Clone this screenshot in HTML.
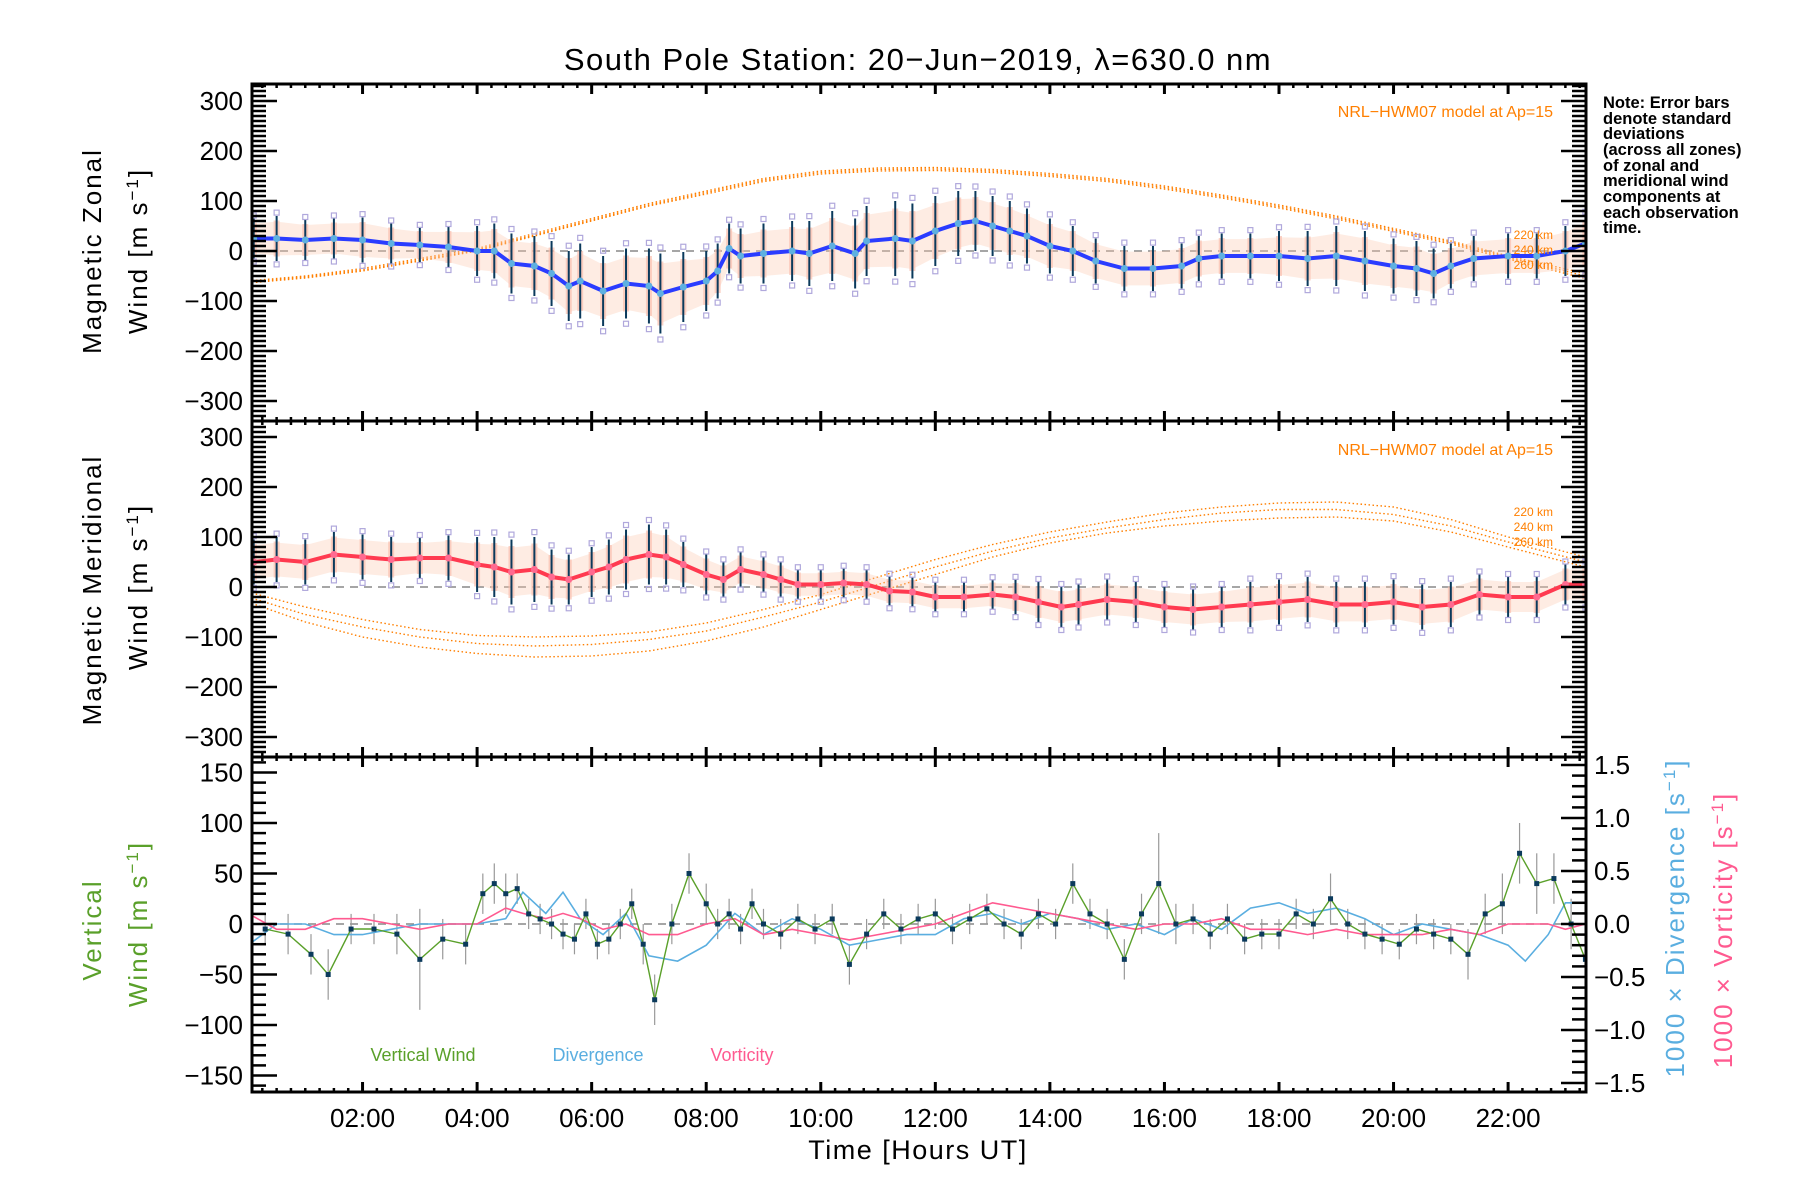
<!DOCTYPE html>
<html><head><meta charset="utf-8">
<style>
html,body{margin:0;padding:0;background:#fff;}
svg{display:block;font-family:"Liberation Sans","DejaVu Sans",sans-serif;}
</style></head>
<body>
<svg id="chart" width="1800" height="1200" viewBox="0 0 1800 1200" xmlns="http://www.w3.org/2000/svg">
<rect width="1800" height="1200" fill="#fff"/>
<text x="918" y="70" font-size="31" letter-spacing="1.5" text-anchor="middle" fill="#000">South Pole Station: 20−Jun−2019, λ=630.0 nm</text>
<g id="layer"></g>
<g font-size="16.5" fill="#000" font-weight="bold">
<text x="1603" y="108">Note: Error bars</text>
<text x="1603" y="124">denote standard</text>
<text x="1603" y="139">deviations</text>
<text x="1603" y="155">(across all zones)</text>
<text x="1603" y="171">of zonal and</text>
<text x="1603" y="186">meridional wind</text>
<text x="1603" y="202">components at</text>
<text x="1603" y="218">each observation</text>
<text x="1603" y="233">time.</text>
</g>
</svg>
<script>
// ---- data ----
const meanTimes = [0.1,0.5,1,1.5,2,2.5,3,3.5,4,4.3,4.6,5,5.3,5.6,5.8,6.2,6.6,7,7.2,7.6,8,8.2,8.4,8.6,9,9.5,9.8,10.2,10.6,10.8,11.3,11.6,12,12.4,12.7,13,13.3,13.6,14,14.4,14.8,15.3,15.8,16.3,16.6,17,17.5,18,18.5,19,19.5,20,20.4,20.7,21,21.4,22,22.5,23,23.35];
const zonalMean = [25,25,22,25,22,15,12,8,0,0,-25,-30,-45,-70,-60,-80,-65,-70,-85,-72,-60,-40,5,-10,-5,0,-5,10,-5,20,25,20,40,55,60,50,40,30,10,0,-20,-35,-35,-30,-15,-10,-10,-10,-15,-10,-20,-30,-35,-45,-30,-15,-10,-10,0,15];
const zonalStd = [40,45,40,40,45,40,35,40,50,55,60,60,65,70,75,70,70,75,80,70,60,55,50,55,60,60,65,70,70,70,75,75,70,65,60,60,60,55,55,50,45,45,45,45,45,45,45,50,55,60,60,55,55,50,45,45,45,45,50,55];
const meridMean = [50,55,50,65,60,55,58,58,45,40,30,35,20,15,30,40,55,65,60,45,25,15,35,25,15,5,5,8,5,-8,-10,-20,-20,-15,-20,-30,-40,-35,-25,-30,-40,-45,-40,-35,-30,-25,-35,-35,-30,-40,-35,-15,-20,-20,5,5];
const meridTimes = [0.1,0.5,1,1.5,2,2.5,3,3.5,4,4.3,4.6,5,5.3,5.6,6,6.3,6.6,7,7.3,7.6,8,8.3,8.6,9,9.3,9.6,10,10.4,10.8,11.2,11.6,12,12.5,13,13.4,13.8,14.2,14.5,15,15.5,16,16.5,17,17.5,18,18.5,19,19.5,20,20.5,21,21.5,22,22.5,23,23.35];
const meridStd = [45,45,45,45,45,45,40,45,55,60,65,65,55,50,50,55,60,60,55,45,40,35,35,35,35,30,30,30,30,30,30,30,30,30,35,40,40,40,40,40,40,40,40,45,45,45,45,45,45,45,45,40,40,40,40,40];
const modelHours = [0,1,2,3,4,5,6,7,8,9,10,11,12,13,14,15,16,17,18,19,20,21,22,23.35];
const zonalModel220 = [-60,-50,-35,-15,5,35,65,95,120,145,160,166,167,163,155,145,130,112,92,70,45,20,-10,-45];
const zonalModel240 = [-62,-52,-38,-18,2,32,62,92,117,142,157,163,164,160,152,142,127,109,89,67,42,17,-13,-50];
const zonalModel260 = [-64,-54,-40,-20,0,30,60,90,114,139,154,160,161,157,149,139,124,106,86,64,39,14,-16,-55];
const meridModel220 = [-10,-40,-65,-85,-97,-100,-98,-90,-72,-45,-15,20,55,85,110,130,148,160,168,170,160,135,100,60];
const meridModel240 = [-20,-55,-80,-100,-113,-118,-115,-105,-88,-60,-30,5,40,72,98,118,135,148,155,155,145,122,90,50];
const meridModel260 = [-30,-70,-100,-120,-133,-140,-138,-128,-108,-80,-45,-10,25,60,88,108,122,132,138,140,132,110,80,40];
const vertTimes = [0.3,0.7,1.1,1.4,1.8,2.2,2.6,3.0,3.4,3.8,4.1,4.3,4.5,4.7,4.9,5.1,5.3,5.5,5.7,5.9,6.1,6.3,6.5,6.7,6.9,7.1,7.4,7.7,8.0,8.2,8.4,8.6,8.8,9.0,9.3,9.6,9.9,10.2,10.5,10.8,11.1,11.4,11.7,12.0,12.3,12.6,12.9,13.2,13.5,13.8,14.1,14.4,14.7,15.0,15.3,15.6,15.9,16.2,16.5,16.8,17.1,17.4,17.7,18.0,18.3,18.6,18.9,19.2,19.5,19.8,20.1,20.4,20.7,21.0,21.3,21.6,21.9,22.2,22.5,22.8,23.1,23.35];
const vertWind = [-5,-10,-30,-50,-5,-5,-10,-35,-15,-20,30,40,30,35,10,5,0,-10,-15,10,-20,-15,0,20,-20,-75,0,50,20,0,10,-5,20,0,-10,5,-5,5,-40,-10,10,-5,5,10,-5,5,15,0,-10,10,0,40,10,0,-35,10,40,0,5,-10,5,-15,-10,-10,10,0,25,0,-10,-15,-20,-5,-10,-15,-30,10,20,70,40,45,0,-35];
const vertErr = [15,20,20,25,15,15,20,50,20,20,20,20,20,15,15,15,15,15,15,15,15,15,15,15,20,25,20,20,20,15,15,15,15,15,15,15,15,15,20,15,15,15,15,15,15,15,15,15,15,15,15,20,15,15,20,20,50,20,15,15,15,15,15,15,15,15,25,15,15,15,15,15,15,15,25,20,30,30,30,25,25,20];
const divTimes = [0,0.5,1,1.5,2,2.5,3,3.5,4,4.5,4.8,5.2,5.5,5.8,6.2,6.6,7,7.5,8,8.5,9,9.5,10,10.5,11,11.5,12,12.5,13,13.5,14,14.5,15,15.5,16,16.5,17,17.5,18,18.5,19,19.5,20,20.5,21,21.5,22,22.3,22.7,23,23.35];
const divergence = [-0.2,0,0,-0.1,-0.1,-0.05,0,0,0,0.05,0.3,0.1,0.3,0.05,-0.1,0.1,-0.3,-0.35,-0.2,0.1,-0.1,0.05,-0.05,-0.2,-0.15,-0.1,-0.1,0.05,0.1,0,0.1,0.05,-0.05,0,-0.1,0.05,-0.05,0.15,0.2,0.1,0.15,0.05,-0.1,0,-0.05,-0.1,-0.2,-0.35,-0.1,0.2,0.2];
const vorticity = [0.1,-0.05,-0.05,0.05,0.05,0,-0.05,0,0,0.15,0.1,0.05,0.1,0.05,-0.05,0,-0.1,-0.1,0,0.05,-0.1,-0.05,-0.1,-0.15,-0.1,-0.05,0,0.1,0.2,0.15,0.1,0.05,0,-0.05,0,0,0.05,-0.05,-0.05,-0.1,-0.05,-0.1,-0.1,-0.1,-0.05,-0.1,0,0,0,-0.05,0];
const xTickHours = [2,4,6,8,10,12,14,16,18,20,22];
const xTickLabels = ["02:00","04:00","06:00","08:00","10:00","12:00","14:00","16:00","18:00","20:00","22:00"];
const windTicks = [300,200,100,0,-100,-200,-300];
const vertTicks = [150,100,50,0,-50,-100,-150];
const rightTicks = [1.5,1.0,0.5,0.0,-0.5,-1.0,-1.5];
const rightTickLabels = ["1.5","1.0","0.5","0.0","−0.5","−1.0","−1.5"];

// ---- axes ----
const L=252,R=1586,T0=0.07,T1=23.36;
const X=t=>L+(t-T0)*(R-L)/(T1-T0);
const P1={top:84,bot:421,y0:251,k:0.5};
const P2={top:421,bot:757,y0:587,k:0.5};
const P3={top:757,bot:1092,y0:924,k:1.01};
const yW=(p,v)=>p.y0-v*p.k;
const yR=v=>924-v*106;
const NS='http://www.w3.org/2000/svg';
const layer=document.getElementById('layer');
function mk(tag,attrs,parent){const e=document.createElementNS(NS,tag);for(const k in attrs)e.setAttribute(k,attrs[k]);(parent||layer).appendChild(e);return e;}
function line(x1,y1,x2,y2,st,w,parent,dash){return mk('line',{x1,y1,x2,y2,stroke:st,'stroke-width':w,'stroke-dasharray':dash||'none'},parent);}
function pts(ts,vs,fy){return ts.map((t,i)=>X(t).toFixed(1)+','+fy(vs[i]).toFixed(1)).join(' ');}
function txt(s,x,y,attrs,parent){const e=mk('text',Object.assign({x,y},attrs),parent);e.textContent=s;return e;}

const clip=mk('defs',{});
[P1,P2,P3].forEach((p,i)=>{const c=mk('clipPath',{id:'cp'+i},clip);mk('rect',{x:L,y:p.top,width:R-L,height:p.bot-p.top},c);});

function windPanel(p,idx,times,mean,std,m1,m2,m3,lineCol,dotCol,name){
  const g=mk('g',{'clip-path':'url(#cp'+idx+')'});
  
  
  line(L,p.y0,R,p.y0,'#888',1.5,g,'8,6');
  [m1,m2,m3].forEach((m,j)=>{
    const pl=mk('polyline',{points:pts(modelHours,m,v=>yW(p,v)),fill:'none',stroke:'#ff7f00','stroke-width':1.4,'stroke-dasharray':'1.5,2.5'},g);
    
    
  });
  const up=times.map((t,i)=>X(t).toFixed(1)+','+yW(p,mean[i]+std[i]*0.75).toFixed(1));
  const dn=times.map((t,i)=>X(t).toFixed(1)+','+yW(p,mean[i]-std[i]*0.75).toFixed(1)).reverse();
  const band=mk('polygon',{points:up.concat(dn).join(' '),fill:'#fcc8b0',opacity:0.35},g);
  
  
  times.forEach((t,i)=>{
    const x=X(t);
    const r=mk('rect',{x:x-3,y:yW(p,mean[i]+std[i]*0.8),width:6,height:std[i]*1.6*p.k,fill:'#f9bfae',opacity:0.7},g);
    
    
    const b=line(x,yW(p,mean[i]+std[i]),x,yW(p,mean[i]-std[i]),'#0b3a5c',2,g);
    
    
    [1.15,-1.15].forEach(f=>{
      const s=mk('rect',{x:x-2.5,y:yW(p,mean[i]+std[i]*f)-2.5,width:5,height:5,fill:'none',stroke:'#b0a8dc','stroke-width':1.2},g);
      
      
    });
  });
  const ml=mk('polyline',{points:pts(times,mean,v=>yW(p,v)),fill:'none',stroke:lineCol,'stroke-width':4},g);
  
  
  times.forEach((t,i)=>{
    const d=mk('circle',{cx:X(t),cy:yW(p,mean[i]),r:3.5,fill:dotCol},g);
    
    
  });
}
windPanel(P1,0,meanTimes,zonalMean,zonalStd,zonalModel220,zonalModel240,zonalModel260,'#2a3cff','#5fb0e0','zonal');
windPanel(P2,1,meridTimes,meridMean,meridStd,meridModel220,meridModel240,meridModel260,'#ff3a50','#ff6a90','meridional');

(function(){
  const g=mk('g',{'clip-path':'url(#cp2)'});
  
  
  line(L,924,R,924,'#888',1.5,g,'8,6');
  vertTimes.forEach((t,i)=>{
    const e=line(X(t),yW(P3,vertWind[i]+vertErr[i]),X(t),yW(P3,vertWind[i]-vertErr[i]),'#999',1.2,g);
    
    
  });
  const dv=mk('polyline',{points:pts(divTimes,divergence,yR),fill:'none',stroke:'#5aaee0','stroke-width':1.6},g);
  
  
  const vo=mk('polyline',{points:pts(divTimes,vorticity,yR),fill:'none',stroke:'#ff5a90','stroke-width':1.6},g);
  
  
  const vw=mk('polyline',{points:pts(vertTimes,vertWind,v=>yW(P3,v)),fill:'none',stroke:'#5aa02a','stroke-width':1.4},g);
  
  
  vertTimes.forEach((t,i)=>{
    const d=mk('rect',{x:X(t)-2.5,y:yW(P3,vertWind[i])-2.5,width:5,height:5,fill:'#0b3a5c'},g);
    
    
  });
})();

[P1,P2,P3].forEach((p,idx)=>{
  const f=mk('rect',{x:L,y:p.top,width:R-L,height:p.bot-p.top,fill:'none',stroke:'#000','stroke-width':3});
  
  
  for(let q=1;q<=93;q++){const t=q*0.25;const x=X(t);if(x<=L||x>=R)continue;
    const major=(q%8===0);const len=major?10:4;
    line(x,p.top,x,p.top+len,'#000',major?3:2.5);line(x,p.bot,x,p.bot-len,'#000',major?3:2.5);}
  const lim=idx<2?330:160;
  for(let v=-lim;v<=lim;v+=10){const y=yW(p,v);if(y<=p.top+1||y>=p.bot-1)continue;
    const major=(v%(idx<2?100:50)===0);const len=major?25:14;
    line(L,y,L+len,y,'#000',2.5);
    if(idx<2)line(R,y,R-len,y,'#000',2.5);}
  if(idx===2){for(let v=-1.6;v<=1.61;v+=0.1){const y=yR(v);if(y<=p.top+1||y>=p.bot-1)continue;
    const major=Math.abs(Math.round(v*10)%5)===0;line(R,y,R-(major?25:14),y,'#000',2.5);}}
});
const tg=mk('g',{'font-size':'26',fill:'#000'});


windTicks.forEach(v=>{const lab=v<0?'−'+(-v):String(v);
  txt(lab,243,yW(P1,v)+9,{'text-anchor':'end'},tg);txt(lab,243,yW(P2,v)+9,{'text-anchor':'end'},tg);});
vertTicks.forEach(v=>txt(v<0?'−'+(-v):String(v),243,yW(P3,v)+9,{'text-anchor':'end'},tg));
rightTicks.forEach((v,i)=>txt(rightTickLabels[i],1594,yR(v)+9,{},tg));
xTickHours.forEach((h,i)=>txt(xTickLabels[i],X(h),1127,{'text-anchor':'middle'},tg));
txt('Time [Hours UT]',918,1159,{'text-anchor':'middle','font-size':'27','letter-spacing':'1.5'});

function vtitle(s,x,y,col,name){const e=txt('',x,y,{'text-anchor':'middle','font-size':'26','letter-spacing':'2',fill:col,transform:'rotate(-90 '+x+' '+y+')'});
  e.innerHTML=s;return e;}
const unit='Wind [m s<tspan dy="-9" font-size="17">−1</tspan><tspan dy="9">]</tspan>';
vtitle('Magnetic Zonal',101,251,'#000','zonal-y-title-1');
vtitle(unit,147,251,'#000','zonal-y-title-2');
vtitle('Magnetic Meridional',101,590,'#000','meridional-y-title-1');
vtitle(unit,147,587,'#000','meridional-y-title-2');
vtitle('Vertical',101,930,'#5aa02a','vertical-y-title-1');
vtitle(unit,147,924,'#5aa02a','vertical-y-title-2');
vtitle('1000 × Divergence [s<tspan dy="-9" font-size="17">−1</tspan><tspan dy="9">]</tspan>',1684,918,'#5aaee0','divergence-y-title');
vtitle('1000 × Vorticity [s<tspan dy="-9" font-size="17">−1</tspan><tspan dy="9">]</tspan>',1732,930,'#ff5a90','vorticity-y-title');

const og=mk('g',{'font-size':'16',fill:'#ff7f00'});


txt('NRL−HWM07 model at Ap=15',1553,117,{'text-anchor':'end'},og);
txt('NRL−HWM07 model at Ap=15',1553,455,{'text-anchor':'end'},og);
['220 km','240 km','260 km'].forEach((s,i)=>{txt(s,1553,239+i*15,{'text-anchor':'end','font-size':'12'},og);txt(s,1553,516+i*15,{'text-anchor':'end','font-size':'12'},og);});
const lg=mk('g',{'font-size':'18'});


const l1=txt('Vertical Wind',423,1061,{'text-anchor':'middle',fill:'#5aa02a'},lg);

const l2=txt('Divergence',598,1061,{'text-anchor':'middle',fill:'#5aaee0'},lg);

const l3=txt('Vorticity',742,1061,{'text-anchor':'middle',fill:'#ff5a90'},lg);

</script>
</body></html>
